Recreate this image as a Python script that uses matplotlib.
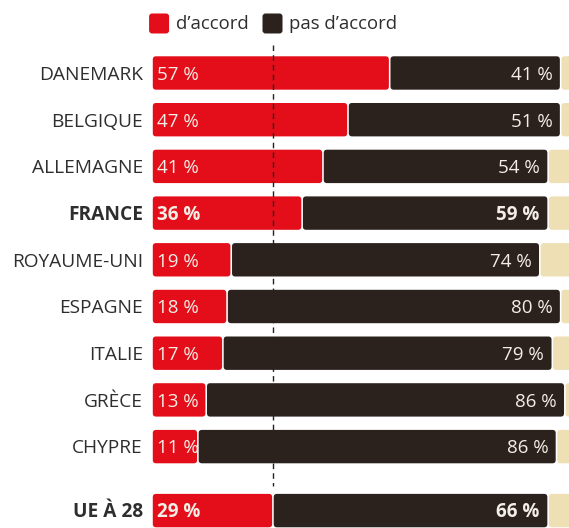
import matplotlib.pyplot as plt
from matplotlib.patches import FancyBboxPatch

# sondage : part des personnes d'accord / pas d'accord, par pays
pays = ["DANEMARK", "BELGIQUE", "ALLEMAGNE", "FRANCE", "ROYAUME-UNI",
        "ESPAGNE", "ITALIE", "GRÈCE", "CHYPRE", "UE À 28"]
d_accord = [57, 47, 41, 36, 19, 18, 17, 13, 11, 29]
pas_d_accord = [41, 51, 54, 59, 74, 80, 79, 86, 86, 66]
en_gras = ["FRANCE", "UE À 28"]
moyenne_ue = 29

ROUGE = "#e30e1a"
NOIR = "#2b221d"
BEIGE = "#efdfb4"
GRIS = "#2e2e2e"
CLAIR = "#f3eee6"

plt.rcParams["font.family"] = ["Open Sans", "DejaVu Sans"]

fig = plt.figure(figsize=(5.69, 5.28), dpi=100)
ax = fig.add_axes([0, 0, 1, 1])
ax.set_xlim(-36.45, 100)
ax.set_ylim(9.743, -1.563)
ax.axis("off")

# une ligne par pays, l'UE un peu plus bas
rangs = list(range(len(pays) - 1)) + [len(pays) - 1 + 0.37]
hauteur = 0.715

# conversion pour des coins arrondis identiques en x et en y
px_x = 4.17
px_y = 46.7
aspect = px_x / px_y
rayon = 3.2 / px_x
jeu = 0.8 / px_x


def segment(x0, largeur, y, couleur):
    boite = FancyBboxPatch((x0 + jeu, y - hauteur / 2), largeur - 2 * jeu, hauteur,
                           boxstyle=f"round,pad=0,rounding_size={rayon}",
                           mutation_aspect=aspect, facecolor=couleur,
                           edgecolor="none", zorder=2)
    ax.add_patch(boite)


for nom, oui, non, y in zip(pays, d_accord, pas_d_accord, rangs):
    gras = "bold" if nom in en_gras else "normal"
    segment(0, oui, y, ROUGE)
    segment(oui, non, y, NOIR)
    segment(oui + non, 100 - oui - non + 2, y, BEIGE)

    yt = y + 0.04
    ax.text(-2.2, yt, nom, ha="right", va="center", fontsize=13.8,
            color=GRIS, fontweight=gras)
    ax.text(1.3, yt, f"{oui} %", ha="left", va="center", fontsize=13.5,
            color=CLAIR, fontweight=gras, zorder=3)
    ax.text(oui + non - 2.0, yt, f"{non} %", ha="right", va="center",
            fontsize=13.5, color=CLAIR, fontweight=gras, zorder=3)

# repère de la moyenne européenne
ax.plot([moyenne_ue, moyenne_ue], [-0.6, rangs[-1] - 0.52], color="#222222",
        lw=1, ls=(0, (4, 3)), zorder=3)

# légende
for x0, couleur, texte in [(-0.7, ROUGE, "d\u2019accord"),
                            (26.5, NOIR, "pas d\u2019accord")]:
    cote = 20 / px_x
    ax.add_patch(FancyBboxPatch((x0, -1.06 - 10 / px_y), cote, 20 / px_y,
                                boxstyle=f"round,pad=0,rounding_size={3 / px_x}",
                                mutation_aspect=aspect, facecolor=couleur,
                                edgecolor="none", clip_on=False))
    ax.text(x0 + cote + 1.6, -1.05, texte, ha="left", va="center",
            fontsize=13.3, color=GRIS)

fig.savefig("out.png", dpi=100)
